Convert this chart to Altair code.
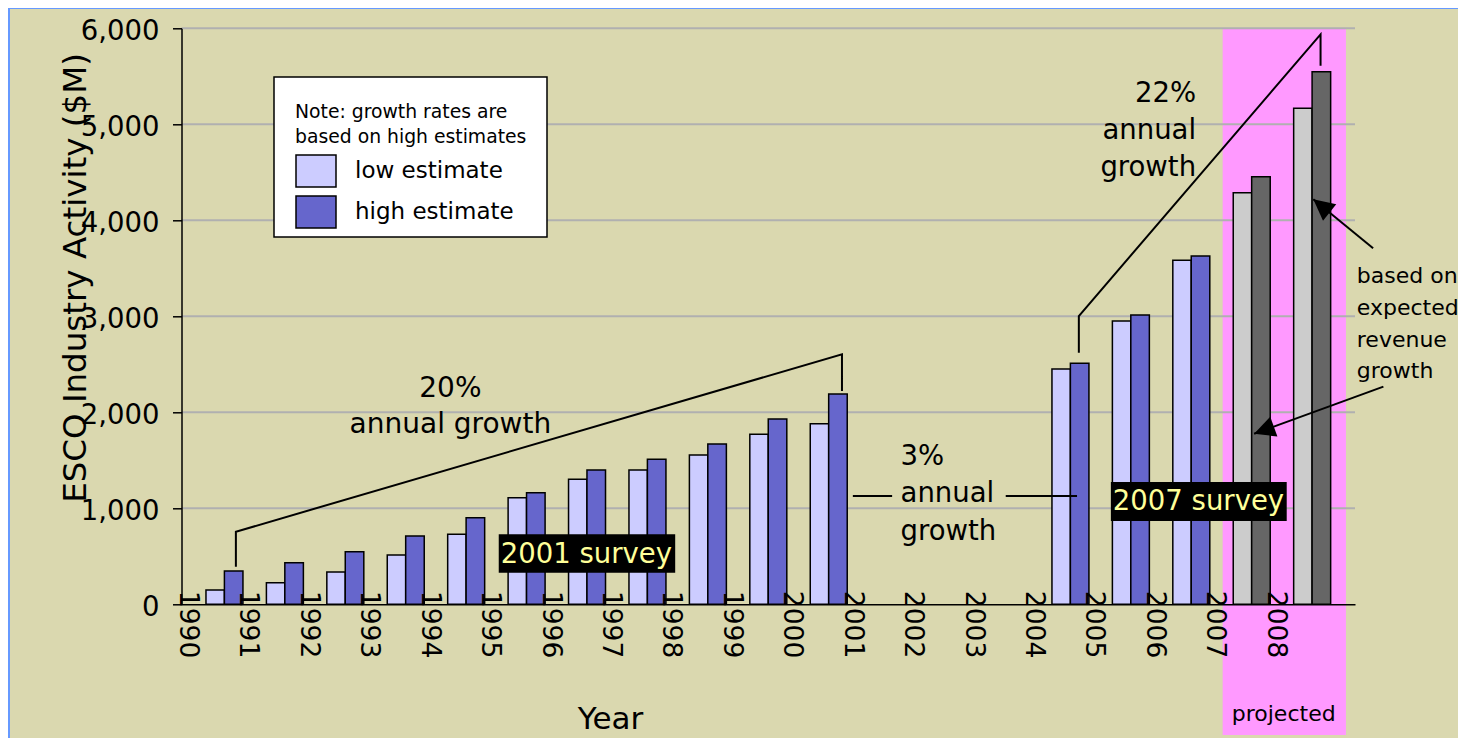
import altair as alt
import pandas as pd

# ---------------- data ----------------
years = [1990, 1991, 1992, 1993, 1994, 1995, 1996, 1997, 1998, 1999, 2000,
         2004, 2005, 2006, 2007, 2008]
low_estimate = [149, 225, 336, 513, 729, 1111, 1302, 1399, 1555, 1771, 1881,
                2451, 2951, 3583, 4288, 5166]
high_estimate = [347, 434, 548, 711, 902, 1163, 1399, 1510, 1670, 1930, 2190,
                 2510, 3014, 3628, 4454, 5548]
projected_years = [2007, 2008]
axis_years = list(range(1990, 2009))
y_ticks = [0, 1000, 2000, 3000, 4000, 5000, 6000]
grid_values = [1000, 2000, 3000, 4000, 5000, 6000]

series_names = ["low estimate", "high estimate", "low projected", "high projected"]
series_colors = ["#CCCCFF", "#6666CC", "#CCCCCC", "#666666"]

legend_title = ["Note: growth rates are", "based on high estimates"]

# annotation brackets (year, $M)
bracket_group = ["g20", "g20", "g20", "g20", "g22", "g22", "g22", "g22"]
bracket_order = [0, 1, 2, 3, 0, 1, 2, 3]
bracket_x = [1990.90, 1990.90, 2000.93, 2000.93, 2004.85, 2004.85, 2008.85, 2008.85]
bracket_y = [392, 756, 2604, 2222, 2621, 3003, 5937, 5610]

flat_x0 = [2001.11, 2003.64]
flat_x1 = [2001.76, 2004.82]
flat_y = [1128, 1128]

survey_labels = ["2001 survey", "2007 survey"]
survey_x0 = [1995.25, 2005.38]
survey_x1 = [1998.17, 2008.29]
survey_y0 = [329, 868]
survey_y1 = [729, 1274]

arrow_x0 = [2009.72, 2009.89]
arrow_y0 = [3708, 2267]
arrow_x1 = [2008.73, 2007.75]
arrow_y1 = [4219, 1776]
arrow_angle = [309, 250]

proj_x0, proj_x1, proj_y0, proj_y1 = 2007.23, 2009.27, 6000, -1361

# ---------------- layout ----------------
FONT = "DejaVu Sans"
W, H = 1173.5, 576
PAD_L, PAD_T = 173.5, 20.3
PAD_R = 1450 - PAD_L - W
PAD_B = 730 - PAD_T - H

xs = alt.Scale(domain=[1990, 2009.42], nice=False, zero=False)
ys = alt.Scale(domain=[0, 6000], nice=False, zero=False)

one = alt.Data(values=[{"a": 1}])

# ---------------- tables ----------------
rows = []
for yr, lo, hi in zip(years, low_estimate, high_estimate):
    proj = yr in projected_years
    rows.append(dict(year=yr, series="low projected" if proj else "low estimate",
                     value=lo, x0=yr + 0.405, x1=yr + 0.71))
    rows.append(dict(year=yr, series="high projected" if proj else "high estimate",
                     value=hi, x0=yr + 0.71, x1=yr + 1.017))
bars_df = pd.DataFrame(rows)

bracket_df = pd.DataFrame(dict(g=bracket_group, o=bracket_order, x=bracket_x, y=bracket_y))
flat_df = pd.DataFrame(dict(x0=flat_x0, x1=flat_x1, y=flat_y))
survey_df = pd.DataFrame(dict(label=survey_labels, x0=survey_x0, x1=survey_x1,
                              y0=survey_y0, y1=survey_y1))
arrow_df = pd.DataFrame(dict(x0=arrow_x0, y0=arrow_y0, x1=arrow_x1, y1=arrow_y1,
                             ang=arrow_angle))
proj_df = pd.DataFrame(dict(x0=[proj_x0], x1=[proj_x1], y0=[proj_y0], y1=[proj_y1]))
grid_df = pd.DataFrame(dict(g=grid_values))

notes_df = pd.DataFrame(dict(
    text=["20%\nannual growth", "3%\nannual\ngrowth", "22%\nannual\ngrowth",
          "based on\nexpected\nrevenue\ngrowth", "projected"],
    x=[1994.45, 2001.90, 2006.79, 2009.45, 2008.24],
    y=[2162, 1453, 5229, 3344, -1216],
))

# ---------------- axes / legend ----------------
x_axis = alt.Axis(
    values=axis_years, format="d", labelAngle=90, labelAlign="left", labelBaseline="middle",
    labelFont=FONT, labelFontSize=26.5, labelColor="black", labelOffset=6, labelPadding=-14,
    labelFlush=False, labelOverlap=False, ticks=False, domainColor="black", domainWidth=1.5,
    grid=False, title="Year", titleFont=FONT, titleFontSize=31, titleFontWeight="normal",
    titleColor="black", titleX=428.5, titleY=124, titleBaseline="alphabetic",
    titleAlign="center", zindex=1,
)
y_axis = alt.Axis(
    values=y_ticks, format=",d", labelFont=FONT, labelFontSize=27.5, labelColor="black",
    labelPadding=13.4, labelOffset=3, labelFlush=False, tickSize=9, tickWidth=1.5,
    tickColor="black", domainColor="black", domainWidth=1.5, grid=False,
    title="ESCO Industry Activity ($M)", titleFont=FONT, titleFontSize=32.5,
    titleFontWeight="normal", titleColor="black", titleAngle=270, titleX=-96,
    titleY=249.2, titleBaseline="alphabetic", titleAlign="center", zindex=1,
)
legend = alt.Legend(
    orient="none", legendX=113.5, legendY=75, padding=0, title=legend_title,
    titleFont=FONT, titleFontSize=18.8, titleFontWeight="normal", titleColor="black",
    titleLineHeight=25, titlePadding=3, titleLimit=400, titleAnchor="start",
    values=["low estimate", "high estimate"], symbolType="M-1,-0.8H1V0.8H-1Z",
    symbolSize=1600, symbolStrokeColor="black", symbolStrokeWidth=1.5, symbolOpacity=1,
    labelFont=FONT, labelFontSize=23, labelColor="black", labelOffset=18, labelLimit=300,
    rowPadding=1,
)


def X(field):
    return alt.X(field, scale=xs, axis=x_axis)


def Y(field):
    return alt.Y(field, scale=ys, axis=y_axis)


# ---------------- layers ----------------
tan = alt.Chart(one).mark_rect(color="#DAD8AF").encode(
    x=alt.value(10 - 181.5), x2=alt.value(1300), y=alt.value(9 - 28.3), y2=alt.value(760))

pink = alt.Chart(proj_df).mark_rect(color="#FF99FF").encode(
    x=X("x0:Q"), x2="x1:Q", y=Y("y0:Q"), y2="y1:Q")

grid = alt.Chart(grid_df).mark_rule(color="#B0B0B0", strokeWidth=2).encode(
    y=Y("g:Q"), x=alt.value(0), x2=alt.value(W))

legend_box = alt.Chart(one).mark_rect(fill="white", stroke="black", strokeWidth=1.5).encode(
    x=alt.value(274 - 181.5), x2=alt.value(547 - 181.5),
    y=alt.value(77 - 28.3), y2=alt.value(237 - 28.3))

bars = alt.Chart(bars_df).mark_rect(stroke="black", strokeWidth=1.5, opacity=1).encode(
    x=X("x0:Q"), x2="x1:Q", y=Y("value:Q"), y2=alt.datum(0),
    color=alt.Color("series:N", scale=alt.Scale(domain=series_names, range=series_colors),
                    legend=legend))

brackets = alt.Chart(bracket_df).mark_line(color="black", strokeWidth=2).encode(
    x=X("x:Q"), y=Y("y:Q"), detail="g:N", order="o:Q")

flats = alt.Chart(flat_df).mark_rule(color="black", strokeWidth=2).encode(
    x=X("x0:Q"), x2="x1:Q", y=Y("y:Q"))


def note(i, align, size, lh):
    return alt.Chart(notes_df.iloc[[i]]).mark_text(
        font=FONT, fontSize=size, color="black", align=align, baseline="alphabetic",
        lineBreak="\n", lineHeight=lh).encode(x=X("x:Q"), y=Y("y:Q"), text="text:N")


notes = [note(0, "center", 28, 36.5), note(1, "left", 27.5, 37.5), note(2, "right", 27.5, 37),
         note(3, "left", 22, 31.7), note(4, "center", 22, 20)]

survey_box = alt.Chart(survey_df).mark_rect(color="black").encode(
    x=X("x0:Q"), x2="x1:Q", y=Y("y0:Q"), y2="y1:Q")

survey_text = alt.Chart(survey_df).transform_calculate(
    ym="(datum.y0 + datum.y1) / 2").mark_text(
    font=FONT, fontSize=27.5, color="#FFFF99", align="left", baseline="middle", dx=2, dy=1).encode(
    x=X("x0:Q"), y=Y("ym:Q"), text="label:N")

arrow_lines = alt.Chart(arrow_df).mark_rule(color="black", strokeWidth=2).encode(
    x=X("x0:Q"), x2="x1:Q", y=Y("y0:Q"), y2="y1:Q")

arrow_heads = alt.Chart(arrow_df).mark_point(
    shape="M0,0L0.5,1L-0.5,1Z", filled=True, color="black", size=1764, opacity=1).encode(
    x=X("x1:Q"), y=Y("y1:Q"), angle=alt.Angle("ang:Q", scale=None))

chart = alt.layer(
    tan, pink, grid, legend_box, bars, brackets, flats, *notes,
    survey_box, survey_text, arrow_lines, arrow_heads,
).properties(
    width=W, height=H,
    padding={"left": PAD_L, "top": PAD_T, "right": PAD_R, "bottom": PAD_B},
    autosize=alt.AutoSizeParams(type="none"),
    background="#6699FF",
).configure_view(stroke=None)

chart.save("out.html", embed_options={"renderer": "svg", "actions": False})
